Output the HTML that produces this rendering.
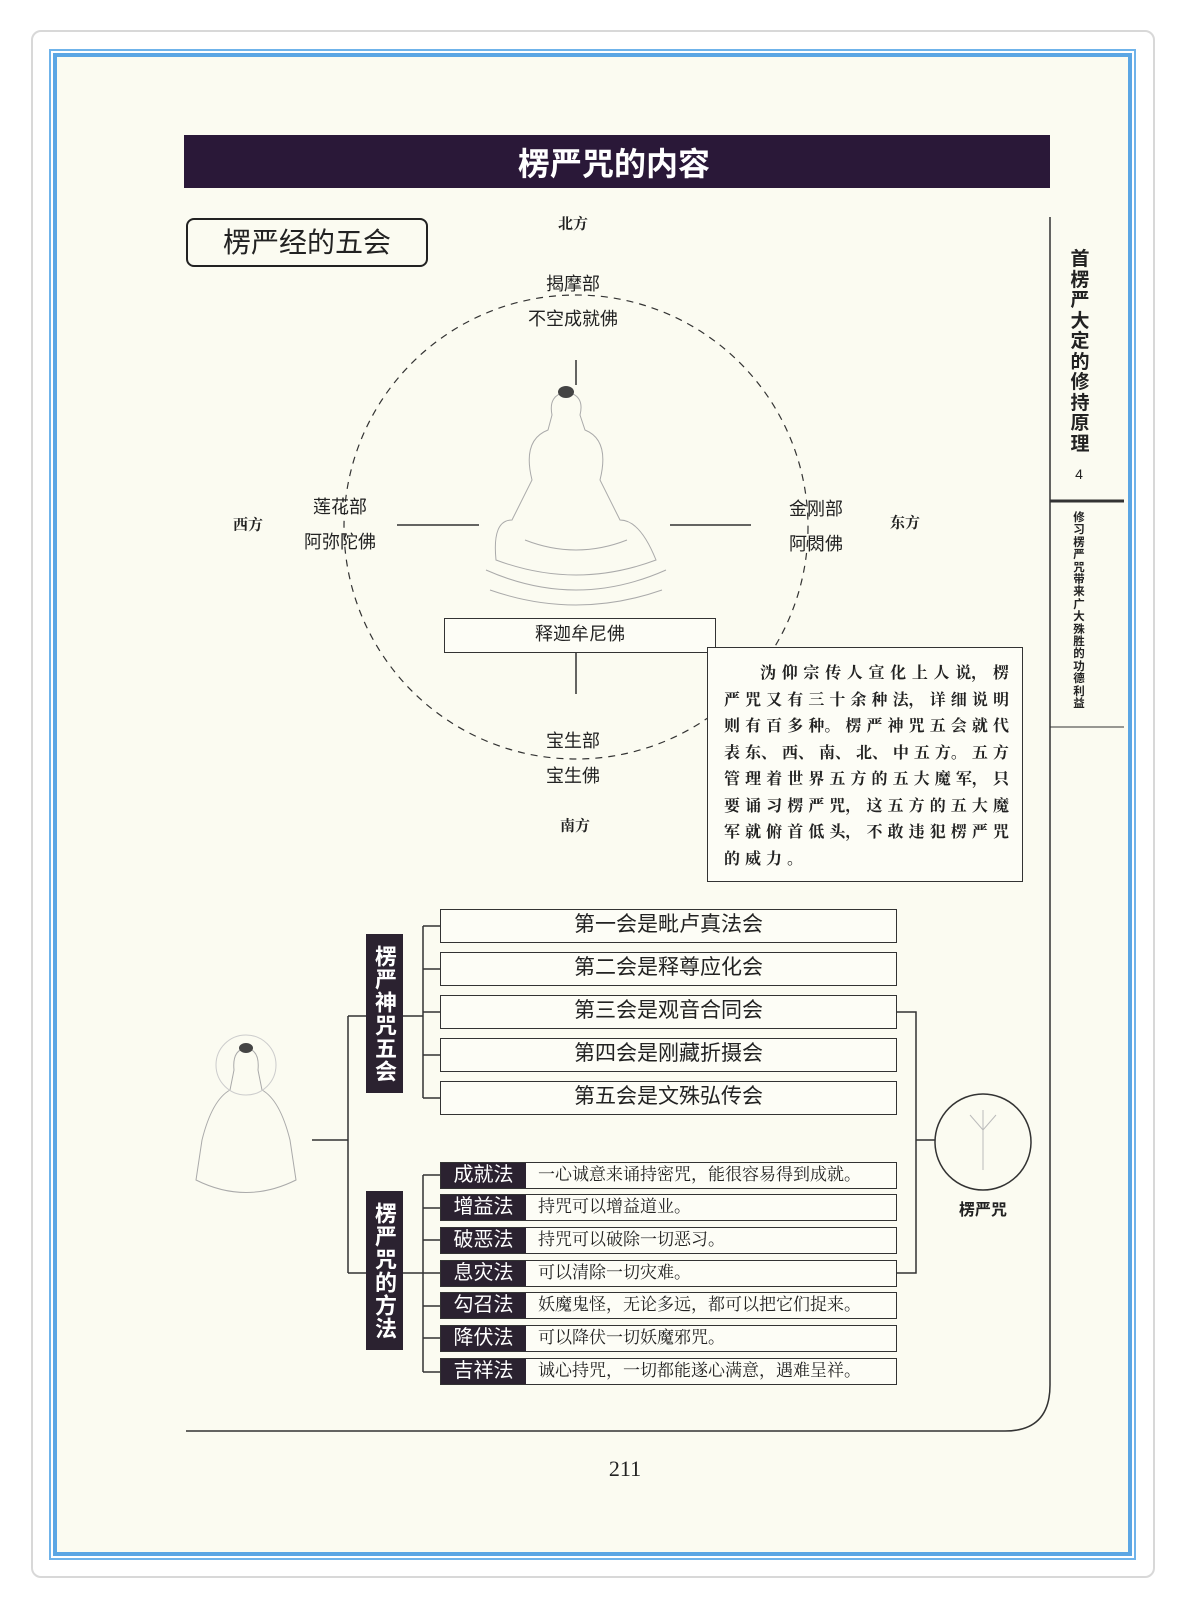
<!DOCTYPE html>
<html><head><meta charset="utf-8"><style>
*{margin:0;padding:0;box-sizing:border-box}
body{width:1188px;height:1611px;background:#fff;position:relative;overflow:hidden;font-family:"Liberation Sans","Noto Sans CJK SC",sans-serif;color:#222}
.a{position:absolute}
.c{position:absolute;transform:translate(-50%,-50%);white-space:nowrap}
.box{position:absolute;border:1.5px solid #333;background:#fdfdf6;text-align:center;color:#222}
.lab{position:absolute;background:#2b2230;color:#fff;font-weight:bold;font-size:22px;line-height:25px;text-align:center;writing-mode:vertical-rl;letter-spacing:1px;display:flex;align-items:center;justify-content:center}
.row{position:absolute;left:440px;width:457px;height:27px;border:1.5px solid #333;background:#fdfdf6;font-family:"Liberation Serif","Noto Serif CJK SC",serif;font-size:17px;line-height:24px}
.row b{display:inline-block;width:85px;height:100%;background:#2b2230;color:#fff;font-family:"Liberation Sans","Noto Sans CJK SC",sans-serif;font-weight:normal;font-size:20px;text-align:center;vertical-align:top;line-height:24px}
.row span{padding-left:12px}
.tl{width:285px;height:26.5px;white-space:nowrap;display:flex;justify-content:space-between}
</style></head><body>
<div class="a" style="left:31px;top:30px;width:1124px;height:1548px;border:2px solid #d8d8d8;border-radius:10px"></div>
<div class="a" style="left:49px;top:49px;width:1087px;height:1511px;border:2px solid #6fb3ea;"></div>
<div class="a" style="left:53px;top:53px;width:1079px;height:1503px;border:4px solid #5ba6e4;background:#fbfbf1"></div>
<div class="a" style="left:184px;top:135px;width:866px;height:53px;background:#2a1838"></div>
<div class="c" style="left:614px;top:162px;color:#fff;font-size:32px;font-weight:bold">楞严咒的内容</div>
<div class="a" style="left:186px;top:218px;width:242px;height:49px;border:2px solid #222;border-radius:8px;font-size:28px;line-height:45px;text-align:center">楞严经的五会</div>
<svg class="a" style="left:0;top:0" width="1188" height="1611">
<g fill="none" stroke="#333" stroke-width="1.5">
<circle cx="576" cy="527" r="232" stroke-dasharray="7,6" stroke-width="1.2"/>
<path d="M1050 217V1385Q1050 1431 1005 1431H186"/>
<path d="M1050 501H1124" stroke-width="3"/>
<path d="M1050 727H1124" stroke-width="1"/>
<path d="M576 360V389M397 525H479M666 525H751M576 652V694"/>
<path d="M312 1140H348M348 1016V1273M348 1016H366M348 1273H366M403 1016H423M403 1273H423"/>
<path d="M423 926V1098M423 926H440M423 969H440M423 1012H440M423 1055H440M423 1098H440"/>
<path d="M423 1175V1372M423 1175H440M423 1208H440M423 1240H440M423 1273H440M423 1306H440M423 1338H440M423 1372H440"/>
<path d="M897 1012H916V1273H897M916 1140H935"/>
<circle cx="983" cy="1142" r="48"/>
</g>
<rect x="480" y="385" width="190" height="215" fill="#fbfbf1"/>
<g fill="none" stroke="#aaa" stroke-width="1">
<path d="M496 560Q576 590 656 560Q640 520 620 520L600 480Q610 440 585 430L580 415Q585 395 566 392Q548 395 552 415L548 430Q522 440 532 480L512 520Q492 520 496 560Z"/>
<path d="M486 570Q576 610 666 570M490 590Q576 620 662 590M525 540Q576 560 627 540"/>
<path d="M196 1180Q246 1205 296 1180L290 1140Q280 1100 262 1090L258 1070Q260 1050 246 1048Q232 1050 234 1070L230 1090Q212 1100 202 1140Z"/>
<circle cx="246" cy="1065" r="30" stroke="#ccc"/>
<path d="M983 1110V1170M970 1115L983 1130L996 1115" stroke="#bbb"/>
</g>
<g fill="#444"><ellipse cx="566" cy="392" rx="8" ry="6"/><ellipse cx="246" cy="1048" rx="7" ry="5"/></g>
</svg>
<div class="c" style="left:573px;top:223px;font-size:15px;font-family:'Liberation Serif','Noto Serif CJK SC',serif;font-weight:bold">北方</div>
<div class="c" style="left:573px;top:283px;font-size:18px">揭摩部</div>
<div class="c" style="left:573px;top:318px;font-size:18px">不空成就佛</div>
<div class="c" style="left:248px;top:524px;font-size:15px;font-family:'Liberation Serif','Noto Serif CJK SC',serif;font-weight:bold">西方</div>
<div class="c" style="left:340px;top:506px;font-size:18px">莲花部</div>
<div class="c" style="left:340px;top:541px;font-size:18px">阿弥陀佛</div>
<div class="c" style="left:816px;top:508px;font-size:18px">金刚部</div>
<div class="c" style="left:816px;top:543px;font-size:18px">阿閦佛</div>
<div class="c" style="left:905px;top:522px;font-size:15px;font-family:'Liberation Serif','Noto Serif CJK SC',serif;font-weight:bold">东方</div>
<div class="box" style="left:444px;top:618px;width:272px;height:35px;font-size:18px;line-height:31px">释迦牟尼佛</div>
<div class="c" style="left:573px;top:740px;font-size:18px">宝生部</div>
<div class="c" style="left:573px;top:775px;font-size:18px">宝生佛</div>
<div class="c" style="left:575px;top:825px;font-size:15px;font-family:'Liberation Serif','Noto Serif CJK SC',serif;font-weight:bold">南方</div>
<div class="box" style="left:707px;top:647px;width:316px;height:235px;text-align:left;padding:13px 0 0 16px;font-family:'Liberation Serif','Noto Serif CJK SC',serif;font-size:16px;line-height:26.5px;font-weight:bold">
<div class="tl" style="padding-left:36px"><span>沩</span><span>仰</span><span>宗</span><span>传</span><span>人</span><span>宣</span><span>化</span><span>上</span><span>人</span><span>说，</span><span>楞</span></div>
<div class="tl"><span>严</span><span>咒</span><span>又</span><span>有</span><span>三</span><span>十</span><span>余</span><span>种</span><span>法，</span><span>详</span><span>细</span><span>说</span><span>明</span></div>
<div class="tl"><span>则</span><span>有</span><span>百</span><span>多</span><span>种。</span><span>楞</span><span>严</span><span>神</span><span>咒</span><span>五</span><span>会</span><span>就</span><span>代</span></div>
<div class="tl"><span>表</span><span>东、</span><span>西、</span><span>南、</span><span>北、</span><span>中</span><span>五</span><span>方。</span><span>五</span><span>方</span></div>
<div class="tl"><span>管</span><span>理</span><span>着</span><span>世</span><span>界</span><span>五</span><span>方</span><span>的</span><span>五</span><span>大</span><span>魔</span><span>军，</span><span>只</span></div>
<div class="tl"><span>要</span><span>诵</span><span>习</span><span>楞</span><span>严</span><span>咒，</span><span>这</span><span>五</span><span>方</span><span>的</span><span>五</span><span>大</span><span>魔</span></div>
<div class="tl"><span>军</span><span>就</span><span>俯</span><span>首</span><span>低</span><span>头，</span><span>不</span><span>敢</span><span>违</span><span>犯</span><span>楞</span><span>严</span><span>咒</span></div>
<div style="letter-spacing:5px">的威力。</div>
</div>
<div class="a" style="left:1069px;top:250px;width:22px;font-size:19px;line-height:20.5px;font-weight:bold;text-align:center">首楞严大定的修持原理</div>
<div class="c" style="left:1079px;top:474px;font-size:14px">4</div>
<div class="a" style="left:1071px;top:512px;width:16px;font-size:11.5px;line-height:12.4px;font-weight:bold;text-align:center">修习楞严咒带来广大殊胜的功德利益</div>
<div class="lab" style="left:366px;top:934px;width:37px;height:159px">楞严神咒五会</div>
<div class="lab" style="left:366px;top:1191px;width:37px;height:159px">楞严咒的方法</div>
<div class="box" style="left:440px;top:909px;width:457px;height:34px;font-size:21px;line-height:30px">第一会是毗卢真法会</div>
<div class="box" style="left:440px;top:952px;width:457px;height:34px;font-size:21px;line-height:30px">第二会是释尊应化会</div>
<div class="box" style="left:440px;top:995px;width:457px;height:34px;font-size:21px;line-height:30px">第三会是观音合同会</div>
<div class="box" style="left:440px;top:1038px;width:457px;height:34px;font-size:21px;line-height:30px">第四会是刚藏折摄会</div>
<div class="box" style="left:440px;top:1081px;width:457px;height:34px;font-size:21px;line-height:30px">第五会是文殊弘传会</div>
<div class="row" style="top:1162px"><b>成就法</b><span>一心诚意来诵持密咒，能很容易得到成就。</span></div>
<div class="row" style="top:1194px"><b>增益法</b><span>持咒可以增益道业。</span></div>
<div class="row" style="top:1227px"><b>破恶法</b><span>持咒可以破除一切恶习。</span></div>
<div class="row" style="top:1260px"><b>息灾法</b><span>可以清除一切灾难。</span></div>
<div class="row" style="top:1292px"><b>勾召法</b><span>妖魔鬼怪，无论多远，都可以把它们捉来。</span></div>
<div class="row" style="top:1325px"><b>降伏法</b><span>可以降伏一切妖魔邪咒。</span></div>
<div class="row" style="top:1358px"><b>吉祥法</b><span>诚心持咒，一切都能遂心满意，遇难呈祥。</span></div>
<div class="c" style="left:983px;top:1208px;font-size:16px;font-weight:bold">楞严咒</div>
<div class="c" style="left:625px;top:1469px;font-size:22px;font-family:'Liberation Serif',serif">211</div>
</body></html>
